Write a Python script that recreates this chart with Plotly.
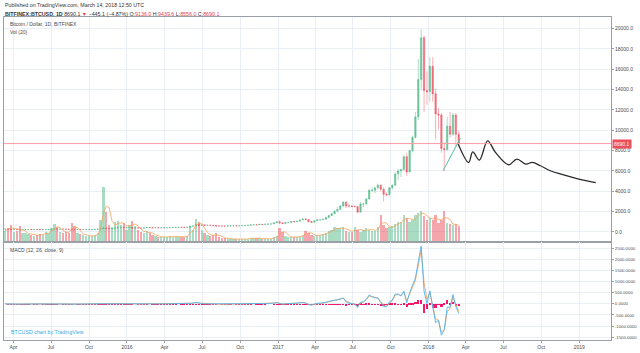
import pandas as pd
import plotly.graph_objects as go

# ---------------- data (weekly bars) ----------------
week_start = "2015-03-12"
prev_close = 275

close_2015 = [285, 260, 247, 255, 236, 223, 226, 240, 241, 236, 240, 230, 225, 233, 244, 250, 268, 292, 275, 289,
              280, 263, 260, 230, 229, 240, 230, 231, 234, 240, 245, 262, 276, 325, 385, 330, 325, 360, 390, 435,
              455, 420, 430]
high_2015 = [300, 290, 270, 262, 260, 238, 238, 243, 246, 245, 244, 242, 233, 237, 253, 255, 272, 315, 300, 300,
             298, 285, 275, 266, 240, 243, 242, 235, 239, 242, 248, 268, 285, 335, 502, 390, 340, 365, 398, 465,
             468, 465, 440]
low_2015 = [270, 255, 240, 243, 233, 218, 215, 224, 232, 234, 234, 228, 222, 222, 232, 241, 248, 265, 266, 274,
            276, 258, 257, 199, 218, 226, 229, 227, 225, 231, 236, 244, 262, 274, 320, 300, 310, 318, 355, 385,
            430, 410, 414]
vol_2015 = [20, 25, 30, 18, 20, 28, 16, 15, 14, 12, 11, 12, 14, 12, 18, 16, 24, 32, 26, 18,
            16, 18, 16, 34, 28, 16, 14, 12, 11, 10, 10, 12, 16, 40, 100, 55, 30, 26, 35, 38,
            30, 34, 22]

close_2016 = [447, 385, 400, 378, 376, 400, 438, 430, 410, 415, 410, 416, 418, 420, 428, 450, 455, 460, 455, 445,
              455, 575, 590, 760, 660, 700, 650, 665, 655, 625, 590, 585, 580, 573, 605, 608, 608, 600, 612, 617,
              640, 655, 700, 705, 702, 745, 735, 768, 775, 790, 900, 1000]
high_2016 = [465, 450, 415, 410, 395, 405, 445, 445, 440, 420, 420, 420, 425, 425, 432, 455, 465, 468, 462, 456,
             458, 580, 600, 780, 770, 705, 705, 680, 670, 660, 630, 600, 595, 585, 610, 620, 612, 612, 615, 620,
             642, 660, 705, 740, 715, 750, 750, 770, 780, 795, 910, 1000]
low_2016 = [420, 370, 360, 370, 365, 370, 395, 410, 405, 405, 405, 405, 410, 412, 418, 425, 445, 445, 440, 430,
            440, 450, 560, 580, 550, 620, 630, 640, 645, 620, 480, 580, 570, 565, 570, 600, 600, 595, 597, 608,
            613, 635, 650, 680, 685, 700, 725, 725, 755, 765, 790, 890]
vol_2016 = [30, 38, 28, 22, 18, 16, 20, 15, 12, 10, 9, 8, 8, 8, 10, 9, 10, 9, 8, 9,
            10, 28, 22, 42, 35, 22, 16, 12, 10, 12, 16, 8, 6, 6, 5, 5, 5, 4, 4, 4,
            5, 5, 7, 7, 6, 6, 5, 5, 5, 5, 8, 10]

close_2017 = [905, 830, 920, 920, 1025, 1000, 1060, 1180, 1270, 1230, 1020, 960, 1090, 1190, 1190, 1250, 1420,
              1620, 1800, 2050, 2200, 2550, 2950, 2550, 2550, 2500, 2500, 1950, 2750, 2750, 3250, 4100, 4100,
              4350, 4600, 4200, 3700, 3650, 4350, 4600, 5700, 6000, 6150, 7400, 5900, 8000, 9300, 11300, 15000,
              19100, 13900, 13800]
high_2017 = [1140, 910, 925, 930, 1030, 1060, 1065, 1200, 1290, 1330, 1250, 1060, 1100, 1210, 1210, 1270, 1450,
             1650, 1850, 2100, 2480, 2650, 3000, 2980, 2780, 2620, 2620, 2520, 2950, 2830, 3300, 4200, 4400,
             4400, 4750, 4650, 4350, 3900, 4400, 4650, 5850, 6200, 6200, 7600, 7800, 8100, 9500, 11800, 17000,
             19900, 19300, 15800]
low_2017 = [780, 780, 820, 880, 910, 950, 980, 1050, 1170, 1180, 950, 900, 940, 1080, 1150, 1180, 1240,
            1400, 1550, 1750, 1950, 2200, 2450, 2350, 2400, 2420, 2400, 1850, 1900, 2450, 2700, 3200, 3900,
            3800, 4200, 4000, 3000, 3500, 3580, 4150, 4550, 5100, 5400, 6000, 5500, 5850, 7800, 9200, 11000,
            14000, 11800, 12500]
vol_2017 = [25, 18, 10, 8, 8, 8, 9, 10, 12, 20, 16, 12, 10, 12, 12, 14, 16, 20, 22, 26,
            24, 24, 26, 20, 18, 18, 26, 22, 18, 22, 24, 22, 20, 20, 26, 48, 30, 24, 26, 28,
            32, 36, 36, 48, 44, 36, 40, 48, 52, 56, 46, 40]

close_2018 = [16300, 13600, 11600, 11500, 8200, 8100, 10400, 9600, 11500, 9600, 8690]
high_2018 = [17200, 17200, 14100, 12200, 11700, 8800, 11300, 11800, 11700, 11700, 9900]
low_2018 = [12800, 12800, 9100, 10100, 7800, 6000, 8000, 9300, 9450, 8400, 8500]
vol_2018 = [44, 40, 48, 34, 40, 56, 34, 32, 30, 32, 28]

# drawings on the chart
trend_dates = ["2018-02-05", "2018-03-19"]
trend_values = [6020, 9220]
proj_dates = ["2018-03-13", "2018-04-08", "2018-04-18", "2018-05-04", "2018-05-24", "2018-06-12",
              "2018-07-14", "2018-08-03", "2018-08-25", "2018-09-09", "2018-09-29", "2018-10-23",
              "2018-11-16", "2018-12-31", "2019-02-10"]
proj_values = [8730, 6840, 7880, 7070, 8960, 7820, 6610, 7170, 6670, 6840, 6510, 6020, 5700, 5200, 4850]

# header values
last_price = 8690.1
change = "\u2212445.1 (\u22124.87%)"
ohlc_text = {"O": "9136.0", "H": "9439.6", "L": "8556.0", "C": "8690.1"}

# axis ticks
x_tick_dates = ["2015-04-01", "2015-07-01", "2015-10-01", "2016-01-01", "2016-04-01", "2016-07-01",
                "2016-10-01", "2017-01-01", "2017-04-01", "2017-07-01", "2017-10-01", "2018-01-01",
                "2018-04-01", "2018-07-01", "2018-10-01", "2019-01-01"]
x_tick_text = ["Apr", "Jul", "Oct", "2016", "Apr", "Jul", "Oct", "2017", "Apr", "Jul", "Oct", "2018",
               "Apr", "Jul", "Oct", "2019"]
price_ticks = [0, 2000, 4000, 6000, 8000, 10000, 12000, 14000, 16000, 18000, 20000]
macd_ticks = [-1500, -1000, -500, 0, 500, 1000, 1500, 2000, 2500]

# ---------------- assemble ----------------
close = close_2015 + close_2016 + close_2017 + close_2018
high = high_2015 + high_2016 + high_2017 + high_2018
low = low_2015 + low_2016 + low_2017 + low_2018
volume = vol_2015 + vol_2016 + vol_2017 + vol_2018
open_ = [prev_close] + close[:-1]
dates = pd.date_range(week_start, periods=len(close), freq="7D")

s = pd.Series(close, dtype=float)


def ema_daily_equiv(series, span_days):
    a_day = 2.0 / (span_days + 1)
    a_week = 1 - (1 - a_day) ** 7
    return series.ewm(alpha=a_week, adjust=False).mean()


macd = ema_daily_equiv(s, 12) - ema_daily_equiv(s, 26)
signal = ema_daily_equiv(macd, 9)
hist = macd - signal
vol_ma = pd.Series(volume, dtype=float).rolling(3, min_periods=1).mean()

UP = "rgba(83,185,135,0.8)"
DOWN = "rgba(235,77,92,0.75)"
GRID = "#eaeff6"
AXIS = "#9aa0a6"
TXT = "#4a4a4a"
FONT = "Liberation Sans"

vol_colors = ["rgba(83,185,135,0.5)" if c >= o else "rgba(235,77,92,0.5)" for o, c in zip(open_, close)]
week_ms = 7 * 24 * 3600 * 1000

fig = go.Figure()
fig.add_trace(go.Bar(x=dates, y=volume, marker_color=vol_colors, marker_line_width=0,
                     width=week_ms * 0.8, xaxis="x", yaxis="y2"))
fig.add_trace(go.Scatter(x=dates, y=vol_ma, mode="lines", line=dict(color="#f6a25a", width=0.8),
                         xaxis="x", yaxis="y2"))
fig.add_trace(go.Candlestick(x=dates, open=open_, high=high, low=low, close=close,
                             increasing=dict(line=dict(color=UP, width=0.6), fillcolor=UP),
                             decreasing=dict(line=dict(color=DOWN, width=0.6), fillcolor=DOWN),
                             whiskerwidth=0, xaxis="x", yaxis="y"))
fig.add_trace(go.Scatter(x=trend_dates, y=trend_values, mode="lines",
                         line=dict(color="#4fc3a7", width=1), xaxis="x", yaxis="y"))
fig.add_trace(go.Scatter(x=proj_dates, y=proj_values, mode="lines", line_shape="spline",
                         line=dict(color="#2b2b2b", width=1.3), xaxis="x", yaxis="y"))

fig.add_trace(go.Bar(x=dates, y=hist, marker_color="#f2186a", marker_line_width=0,
                     width=week_ms * 0.8, xaxis="x2", yaxis="y3"))
fig.add_trace(go.Scatter(x=dates, y=signal, mode="lines", line=dict(color="rgba(247,166,96,0.9)", width=1),
                         xaxis="x2", yaxis="y3"))
fig.add_trace(go.Scatter(x=dates, y=macd, mode="lines", line=dict(color="rgba(80,180,240,0.9)", width=1),
                         xaxis="x2", yaxis="y3"))

x_range = ["2015-03-09", "2019-03-19"]
split = 99 / 325.0

fig.update_layout(
    width=640, height=353,
    margin=dict(l=3, r=29, t=17, b=11),
    paper_bgcolor="white", plot_bgcolor="white",
    showlegend=False, bargap=0,
    font=dict(family=FONT, color=TXT),
    xaxis=dict(domain=[0, 1], anchor="y", type="date", range=x_range, tickvals=x_tick_dates,
               showticklabels=False, showgrid=True, gridcolor=GRID, gridwidth=1, zeroline=False,
               showline=True, linecolor=AXIS, linewidth=1, mirror=True, ticks="",
               rangeslider=dict(visible=False)),
    xaxis2=dict(domain=[0, 1], anchor="y3", type="date", range=x_range, matches="x",
                tickvals=x_tick_dates, ticktext=x_tick_text, tickfont=dict(size=5, color=TXT),
                showgrid=True, gridcolor=GRID, zeroline=False, showline=True, linecolor=AXIS,
                linewidth=1, mirror=True, ticks="outside", ticklen=2, tickcolor=AXIS),
    yaxis=dict(domain=[split, 1], anchor="x", side="right", range=[-950, 21140],
               tickvals=price_ticks, ticktext=[f"{v:.1f}" for v in price_ticks],
               tickfont=dict(size=5, color=TXT), showgrid=True, gridcolor=GRID, zeroline=False,
               showline=True, linecolor=AXIS, linewidth=1, mirror=True, ticks="outside",
               ticklen=2, tickcolor=AXIS),
    yaxis2=dict(overlaying="y", anchor="x", range=[0, 411], visible=False),
    yaxis3=dict(domain=[0, split], anchor="x2", side="right", range=[-1629, 2814],
                tickvals=macd_ticks, ticktext=[f"{v:.4f}" for v in macd_ticks],
                tickfont=dict(size=4.3, color=TXT), showgrid=True, gridcolor=GRID, zeroline=False,
                showline=True, linecolor=AXIS, linewidth=1, mirror=True, ticks="outside",
                ticklen=2, tickcolor=AXIS),
)

# current price line and label
fig.add_shape(type="line", xref="paper", x0=0, x1=1, yref="y", y0=last_price, y1=last_price,
              line=dict(color="#ff9aa2", width=1), layer="above")
fig.add_annotation(xref="paper", x=1, xanchor="left", yref="y", y=last_price, yanchor="middle",
                   text=f"{last_price:.1f}", showarrow=False, bgcolor="#ee4d5a",
                   font=dict(size=5, color="white", family=FONT), borderpad=1, xshift=1)


def py(pix):
    return (342 - pix) / 325.0


RED = "#e8414f"
header1 = "Published on TradingView.com, March 14, 2018 12:50 UTC"
header2 = ("<b>BITFINEX:BTCUSD, 1D</b> " + f"{last_price:.1f} "
           + f"<span style='color:{RED}'>\u25bc</span> " + change + " "
           + " ".join(f"{k}:<span style='color:{RED}'>{v}</span>" for k, v in ohlc_text.items()))

for txt, ypix, xpix, size, color in [
    (header1, 5, 2, 5.3, "#333333"),
    (header2, 13.5, 2, 5.3, "#333333"),
    ("Bitcoin / Dollar, 1D, BITFINEX", 24.5, 7, 5, TXT),
    ("Vol (20)", 32.3, 7, 5, TXT),
    ("MACD (12, 26, close, 9)", 251, 7, 5, TXT),
    ("BTCUSD chart by TradingView", 333.5, 8, 5.3, "#3ea6e0"),
]:
    fig.add_annotation(xref="paper", yref="paper", x=(xpix - 3) / 608.0, y=py(ypix),
                       xanchor="left", yanchor="middle", text=txt, showarrow=False,
                       font=dict(size=size, color=color, family=FONT))

fig.write_html("out.html")
